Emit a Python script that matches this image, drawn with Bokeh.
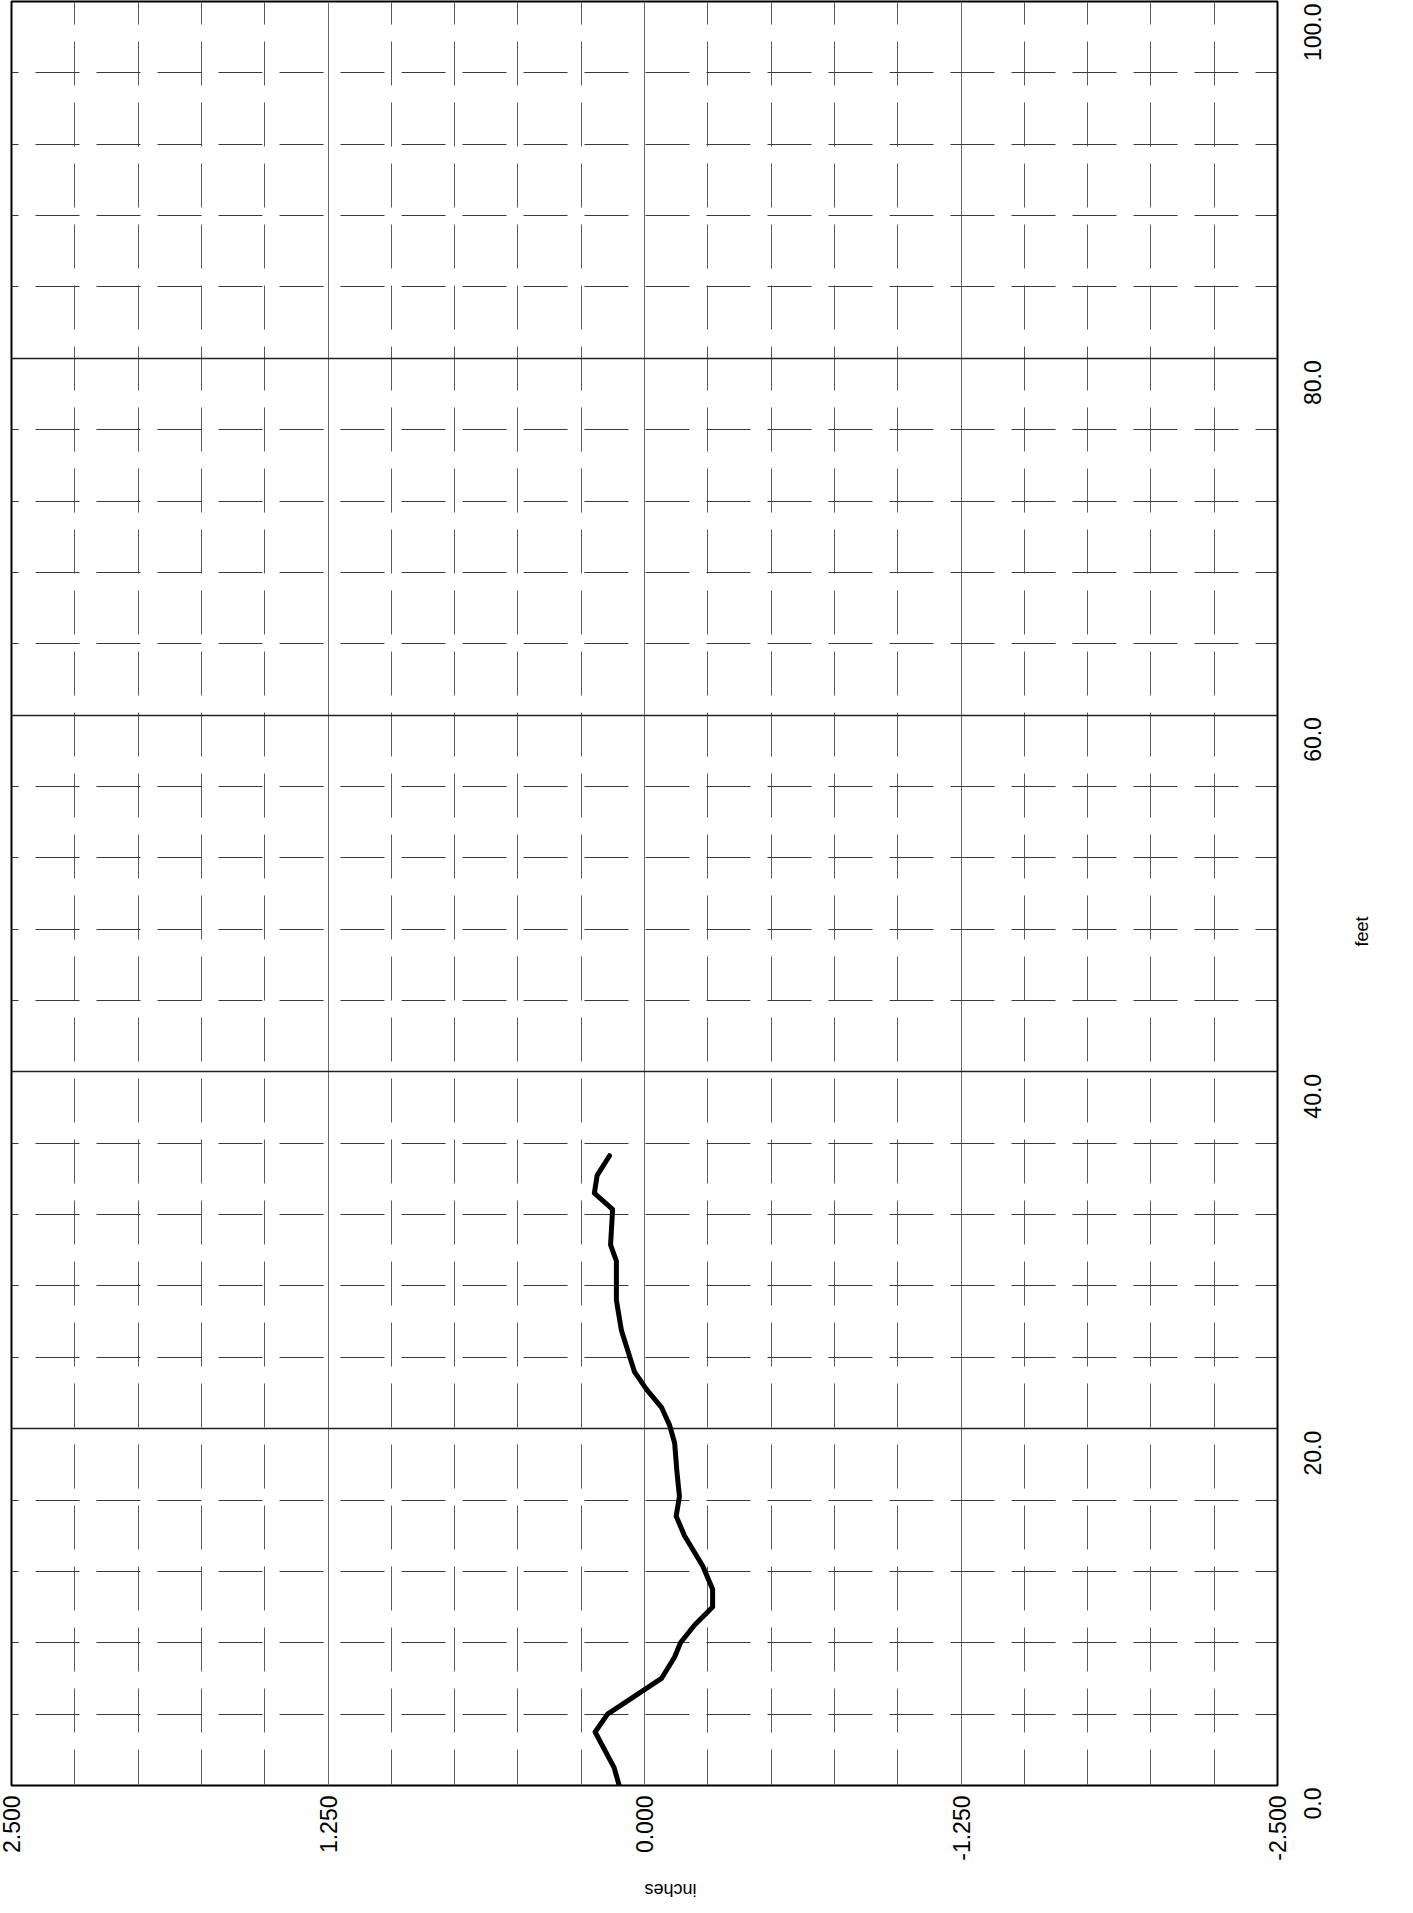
import math
from bokeh.plotting import figure
from bokeh.layouts import row
from bokeh.models import Range1d, FixedTicker
from bokeh.core.properties import value
from bokeh.embed import file_html
from bokeh.resources import INLINE

# ---- data (chart is printed rotated: feet runs upward, inches runs right-to-left)
feet = [0.0, 1.0, 3.0, 4.0, 5.0, 6.0, 7.2, 8.0, 9.0, 10.0, 11.0, 12.3, 14.0, 15.1, 16.2,
        17.6, 19.2, 20.2, 21.2, 22.2, 23.2, 25.5, 27.2, 29.4, 30.3, 32.3, 33.2, 34.2, 35.3]
inches = [0.100, 0.120, 0.195, 0.146, 0.040, -0.067, -0.119, -0.142, -0.198, -0.269, -0.269,
          -0.230, -0.158, -0.125, -0.138, -0.128, -0.119, -0.099, -0.067, -0.008, 0.040,
          0.091, 0.111, 0.111, 0.134, 0.126, 0.198, 0.187, 0.138]

inch_ticks = [2.5, 1.25, 0, -1.25, -2.5]
inch_labels = ["2.500", "1.250", "0.000", "-1.250", "-2.500"]
feet_ticks = [0, 20, 40, 60, 80, 100]
feet_labels = ["0.0", "20.0", "40.0", "60.0", "80.0", "100.0"]

inch_minor = [-2.5 + 0.25 * i for i in range(21) if i % 5]
feet_minor = [4 * i for i in range(26) if i % 5]

FONT = "Liberation Sans"
FRAME_W, FRAME_H = 1266, 1784

x_range = Range1d(inch_ticks[0], inch_ticks[-1])
y_range = Range1d(feet_ticks[0], feet_ticks[-1])

p = figure(frame_width=FRAME_W, frame_height=FRAME_H,
           x_range=x_range, y_range=y_range,
           x_axis_location="below", y_axis_location=None,
           output_backend="svg", toolbar_location=None,
           min_border_left=11, min_border_top=1, min_border_right=14, min_border_bottom=0)

p.background_fill_color = "white"
p.border_fill_color = "white"
p.outline_line_color = "black"
p.outline_line_width = 2

xa = p.xaxis[0]
xa.ticker = FixedTicker(ticks=inch_ticks)
xa.major_label_overrides = dict(zip(inch_ticks, inch_labels))
xa.major_label_orientation = math.pi / 2
xa.major_label_standoff = 4
xa.axis_label = "inches"
xa.axis_label_standoff = 26
xa.axis_label_orientation = math.pi
xa.axis_line_color = None
xa.major_tick_line_color = None
xa.minor_tick_line_color = None
xa.major_label_text_font = FONT
xa.major_label_text_font_size = "23px"
xa.major_label_text_color = "black"
xa.axis_label_text_font = FONT
xa.axis_label_text_font_size = "18px"
xa.axis_label_text_font_style = "normal"
xa.axis_label_text_color = "black"

xg = p.xgrid[0]
xg.ticker = FixedTicker(ticks=inch_ticks, minor_ticks=inch_minor)
xg.grid_line_color = "#6a6a6a"
xg.grid_line_width = 1
xg.minor_grid_line_color = "#5a5a5a"
xg.minor_grid_line_width = 1
xg.minor_grid_line_dash = "44 17"
xg.minor_grid_line_dash_offset = 8

yg = p.ygrid[0]
yg.ticker = FixedTicker(ticks=feet_ticks, minor_ticks=feet_minor)
yg.grid_line_color = "#222222"
yg.grid_line_width = 1.4
yg.minor_grid_line_color = "#3a3a3a"
yg.minor_grid_line_width = 1.2
yg.minor_grid_line_dash = "44 17"
yg.minor_grid_line_dash_offset = 22

p.line(x=inches, y=feet, line_color="black", line_width=5, line_join="round", line_cap="round")

# ---- the feet scale printed at the right of the sheet: each label reads upward and ends at its line.
# A narrow strip shares the feet scale (same pixels per foot) and runs a little below 0 ft.
ppu = FRAME_H / (feet_ticks[-1] - feet_ticks[0])
STRIP_W, STRIP_H = 100, FRAME_H + 50
q = figure(frame_width=STRIP_W, frame_height=STRIP_H,
           x_range=Range1d(0, STRIP_W),
           y_range=Range1d(feet_ticks[-1] - STRIP_H / ppu, feet_ticks[-1]),
           x_axis_location=None, y_axis_location=None,
           output_backend="svg", toolbar_location=None,
           min_border_left=0, min_border_top=1, min_border_right=0, min_border_bottom=0)
q.outline_line_color = None
q.grid.visible = False
q.background_fill_color = "white"
q.border_fill_color = "white"

q.text(x=12, y=feet_ticks, text=feet_labels, angle=math.pi / 2,
       text_align="right", text_baseline="top", y_offset=2,
       text_font=value(FONT), text_font_size=value("23px"), text_color="black")

q.text(x=[60], y=[(feet_ticks[0] + feet_ticks[-1]) / 2], text=["feet"], angle=math.pi / 2,
       text_align="center", text_baseline="top", y_offset=38,
       text_font=value(FONT), text_font_size=value("18px"), text_color="black")

layout = row(p, q)
open("out.html", "w").write(file_html(layout, INLINE))
